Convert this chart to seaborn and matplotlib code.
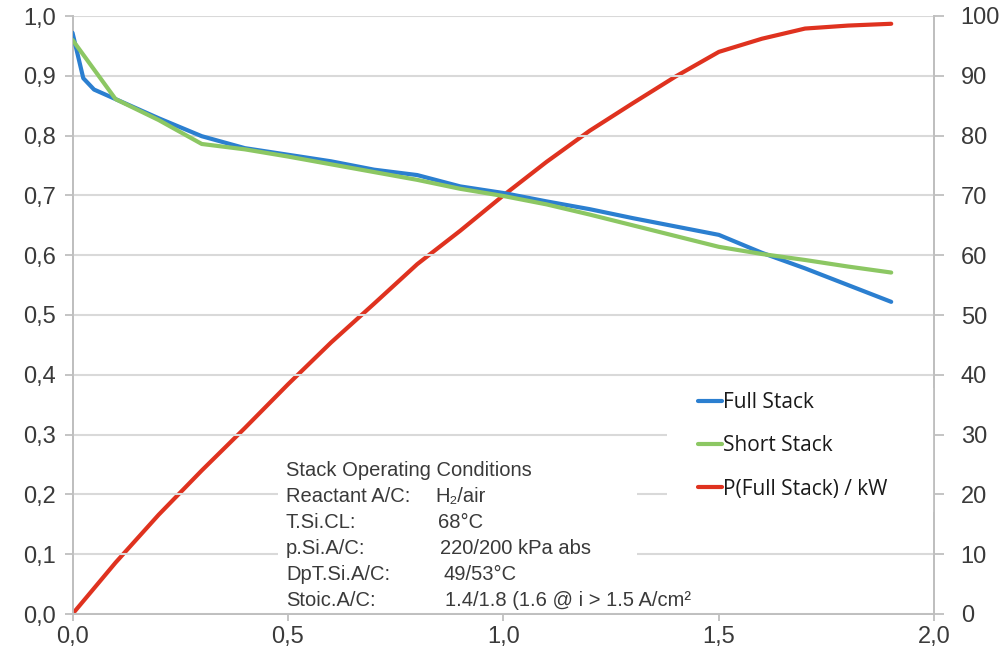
import matplotlib
matplotlib.use("Agg")
import matplotlib.pyplot as plt
import seaborn as sns
import pandas as pd
from matplotlib.ticker import FuncFormatter, MultipleLocator
from matplotlib.patches import Rectangle
from matplotlib.lines import Line2D

# ---------------- data ----------------
current_full = [0.0, 0.025, 0.05, 0.1, 0.2, 0.3, 0.4, 0.5, 0.6, 0.7, 0.8, 0.9,
                1.0, 1.1, 1.2, 1.3, 1.4, 1.5, 1.6, 1.7, 1.8, 1.9]
voltage_full = [0.972, 0.896, 0.877, 0.861, 0.829, 0.799, 0.779, 0.768, 0.757,
                0.743, 0.734, 0.715, 0.704, 0.690, 0.677, 0.662, 0.648, 0.634,
                0.604, 0.578, 0.550, 0.522]
current_short = [0.0, 0.1, 0.2, 0.3, 0.4, 0.5, 0.6, 0.7, 0.8, 0.9, 1.0, 1.1,
                 1.2, 1.3, 1.4, 1.5, 1.6, 1.7, 1.8, 1.9]
voltage_short = [0.960, 0.861, 0.826, 0.786, 0.777, 0.765, 0.752, 0.739, 0.726,
                 0.711, 0.699, 0.685, 0.668, 0.650, 0.632, 0.614, 0.602, 0.592,
                 0.581, 0.571]
current_power = [0.0, 0.1, 0.2, 0.3, 0.4, 0.5, 0.6, 0.7, 0.8, 0.9, 1.0, 1.1,
                 1.2, 1.3, 1.4, 1.5, 1.6, 1.7, 1.8, 1.9]
power_full = [0.0, 8.6, 16.6, 24.0, 31.1, 38.4, 45.4, 51.9, 58.5, 64.1, 70.0,
              75.6, 80.8, 85.4, 89.9, 94.0, 96.2, 97.9, 98.4, 98.7]

series_labels = ["Full Stack", "Short Stack", "P(Full Stack) / kW"]
x_ticks = [0.0, 0.5, 1.0, 1.5, 2.0]

cond_labels = ["Reactant A/C:", "T.Si.CL:", "p.Si.A/C:", "DpT.Si.A/C:", "Stoic.A/C:"]
cond_values = ["H\u2082/air", "68°C", "220/200 kPa abs", "49/53°C",
               "1.4/1.8 (1.6 @ i > 1.5 A/cm\u00b2"]
cond_title = "Stack Operating Conditions"

# ---------------- style ----------------
sns.set_style("white")
plt.rcParams["font.family"] = ["Liberation Sans", "DejaVu Sans"]

BLUE = "#2b7fd0"
GREEN = "#8cc763"
RED = "#df321f"
GRID = "#d9d9d9"
SPINE = "#bfbfbf"
TXT = "#3a3a3a"

W, H = 1007, 660
fig = plt.figure(figsize=(W / 100, H / 100), dpi=100)
x0, x1, yb, yt = 72.5, 934.3, 614, 16
ax = fig.add_axes([x0 / W, 1 - yb / H, (x1 - x0) / W, (yb - yt) / H])
ax2 = ax.twinx()

df_v = pd.DataFrame({
    "i": current_full + current_short,
    "V": voltage_full + voltage_short,
    "s": [series_labels[0]] * len(current_full) + [series_labels[1]] * len(current_short),
})
df_p = pd.DataFrame({"i": current_power, "P": power_full})

sns.lineplot(data=df_v, x="i", y="V", hue="s", palette=[BLUE, GREEN],
             estimator=None, sort=False, linewidth=3.0, ax=ax, legend=False,
             zorder=5)
sns.lineplot(data=df_p, x="i", y="P", color=RED, estimator=None, sort=False,
             linewidth=3.0, ax=ax2, legend=False, zorder=5)

ax.set_xlim(0, 2.0)
ax.set_ylim(0, 1.0)
ax2.set_ylim(0, 100)
ax.set_xlabel("")
ax.set_ylabel("")
ax2.set_ylabel("")

ax.yaxis.set_major_locator(MultipleLocator(0.1))
ax.set_xticks(x_ticks)
ax2.yaxis.set_major_locator(MultipleLocator(10))
comma = FuncFormatter(lambda v, p: f"{v:.1f}".replace(".", ","))
ax.xaxis.set_major_formatter(comma)
ax.yaxis.set_major_formatter(comma)
ax2.yaxis.set_major_formatter(FuncFormatter(lambda v, p: f"{v:.0f}"))

ax.grid(axis="y", color=GRID, linewidth=1.5)
ax.grid(axis="x", visible=False)
ax2.grid(False)
ax.set_axisbelow(True)

for a in (ax, ax2):
    a.spines["top"].set_visible(False)
    for side in ("left", "right", "bottom"):
        a.spines[side].set_color(SPINE)
        a.spines[side].set_linewidth(1.3)

ax.tick_params(axis="y", which="both", left=True, length=6, width=1.3,
               color=SPINE, labelsize=17, labelcolor=TXT, pad=6)
ax.tick_params(axis="x", which="both", bottom=True, length=5, width=1.3,
               color=SPINE, labelsize=17, labelcolor=TXT, pad=4)
ax2.tick_params(axis="y", which="both", right=True, length=7, width=1.3,
                color=SPINE, labelsize=17, labelcolor=TXT, pad=12)

ax.set_zorder(ax2.get_zorder() + 1)
ax.patch.set_visible(False)

def ax_x(px):
    return (px - x0) / (x1 - x0)

def ax_y(py):
    return (yb - py) / (yb - yt)

# white panel behind legend
ax.add_patch(Rectangle((ax_x(667), ax_y(512)), 1 - ax_x(667), ax_y(388) - ax_y(512),
                       transform=ax.transAxes, facecolor="white", edgecolor="none",
                       zorder=2, clip_on=False))
# white panel behind conditions text
ax.add_patch(Rectangle((ax_x(278), 0.004), ax_x(637) - ax_x(278), ax_y(455) - 0.004,
                       transform=ax.transAxes, facecolor="white", edgecolor="none",
                       zorder=2))

handles = [Line2D([], [], color=c, linewidth=3.0) for c in (BLUE, GREEN, RED)]
leg = ax.legend(handles, series_labels, loc="upper left",
                bbox_to_anchor=(ax_x(698), ax_y(392)), bbox_transform=ax.transAxes,
                frameon=False, borderpad=0, borderaxespad=0, handlelength=1.15,
                handletextpad=0.06, labelspacing=1.07,
                prop={"family": ["Open Sans", "DejaVu Sans"], "size": 15})
for t in leg.get_texts():
    t.set_color("#1a1a1a")
leg.set_zorder(6)

# conditions text
fs = 14.5
baselines = [476, 502, 528, 554, 580, 606]
value_x = [435, 438, 440, 443, 445]
ax.text(ax_x(286), ax_y(baselines[0]), cond_title, transform=ax.transAxes,
        fontsize=fs, color=TXT, va="baseline", ha="left", zorder=6)
for k, (lab, val) in enumerate(zip(cond_labels, cond_values)):
    ax.text(ax_x(286), ax_y(baselines[k + 1]), lab, transform=ax.transAxes,
            fontsize=fs, color=TXT, va="baseline", ha="left", zorder=6)
    ax.text(ax_x(value_x[k]), ax_y(baselines[k + 1]), val, transform=ax.transAxes,
            fontsize=fs, color=TXT, va="baseline", ha="left", zorder=6)

fig.savefig("out.png", dpi=100, facecolor="white")
